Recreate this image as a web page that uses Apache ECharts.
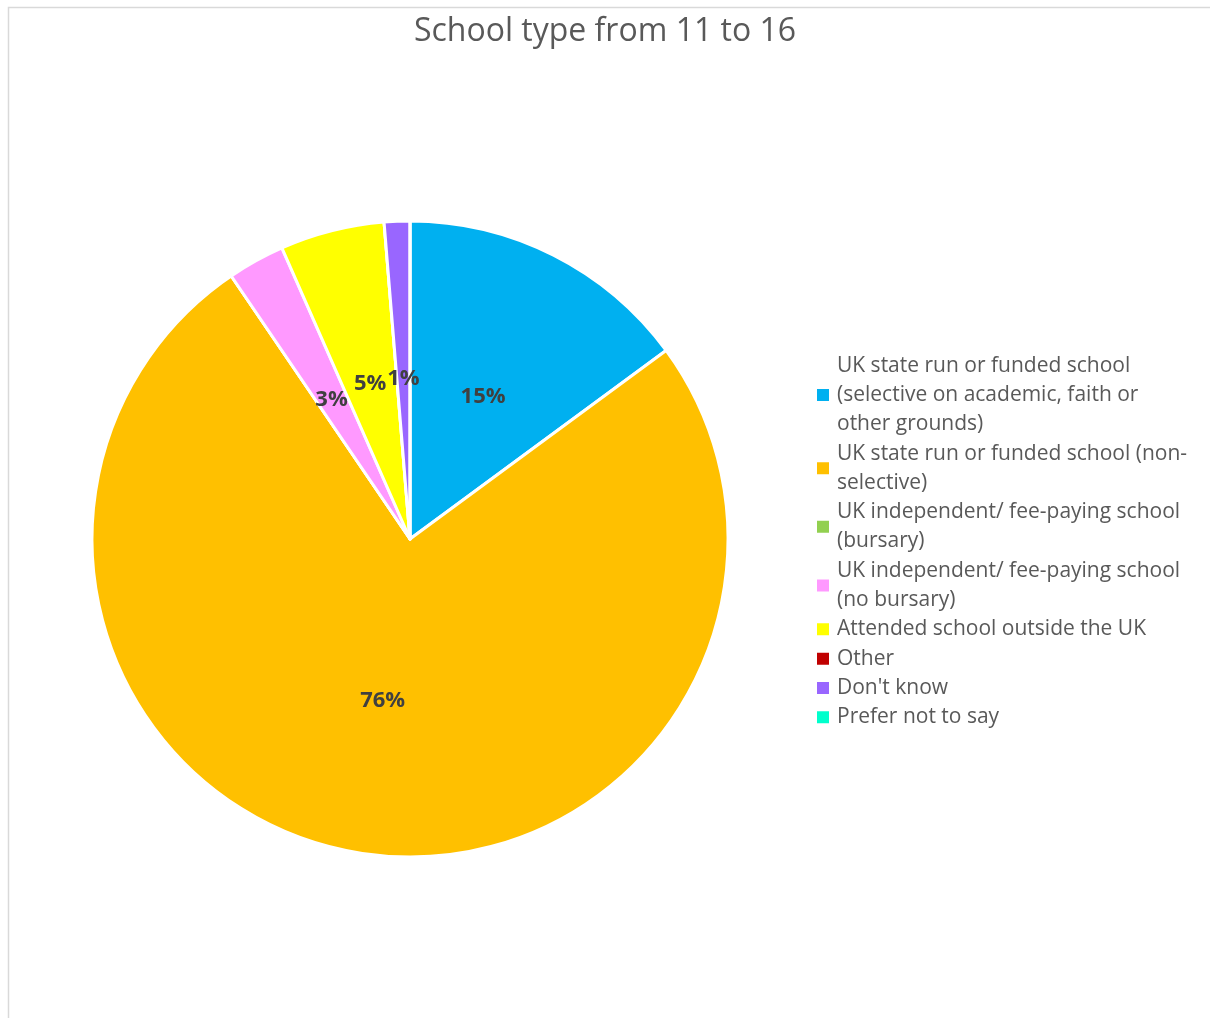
<!DOCTYPE html>
<html>
<head>
<meta charset="utf-8">
<title>School type from 11 to 16</title>
<script src="https://cdn.jsdelivr.net/npm/echarts@6/dist/echarts.min.js"></script>
<style>
  html, body { margin: 0; padding: 0; background: #fff; }
  #chart { width: 1210px; height: 1018px; }
</style>
</head>
<body>
<div id="chart"></div>
<script>
// 分类和数值（百分比，按图上读取）
const categories = [
  'UK state run or funded school (selective on academic, faith or other grounds)',
  'UK state run or funded school (non-selective)',
  'UK independent/ fee-paying school (bursary)',
  'UK independent/ fee-paying school (no bursary)',
  'Attended school outside the UK',
  'Other',
  "Don't know",
  'Prefer not to say'
]
const values = [14.9, 75.6, 0, 2.9, 5.3, 0, 1.3, 0]
const colors = ['#00b0f0', '#ffc000', '#92d050', '#ff99ff', '#ffff00', '#c00000', '#9966ff', '#00ffcc']
// 图例里的换行
const legendLines = [
  'UK state run or funded school\n(selective on academic, faith or\nother grounds)',
  'UK state run or funded school (non-\nselective)',
  'UK independent/ fee-paying school\n(bursary)',
  'UK independent/ fee-paying school\n(no bursary)',
  'Attended school outside the UK',
  'Other',
  "Don't know",
  'Prefer not to say'
]

const font = '"Open Sans", "Noto Sans", sans-serif'

const chart = echarts.init(document.getElementById('chart'))
const option = {
  animation: false,
  title: {
    text: 'School type from 11 to 16',
    left: 'center',
    top: 11,
    textStyle: {
      fontFamily: font,
      fontSize: 32,
      fontWeight: 'normal',
      color: '#595959'
    }
  },
  graphic: [{
    type: 'rect',
    silent: true,
    shape: { x: 8.5, y: 7.5, width: 1300, height: 1100 },
    style: { fill: 'none', stroke: '#d9d9d9', lineWidth: 1.5 }
  }],
  legend: {
    orient: 'vertical',
    left: 815,
    top: 351,
    padding: 0,
    itemWidth: 14,
    itemHeight: 14,
    itemGap: 0,
    icon: 'rect',
    data: categories,
    formatter: function (name) {
      return legendLines[categories.indexOf(name)]
    },
    textStyle: {
      fontFamily: font,
      fontSize: 21,
      lineHeight: 29.3,
      color: '#595959',
      padding: [0, 0, 0, 2]
    }
  },
  series: [{
    type: 'pie',
    center: [410, 539],
    radius: [0, 318],
    startAngle: 90,
    clockwise: true,
    minAngle: 0,
    avoidLabelOverlap: false,
    itemStyle: {
      borderColor: '#fff',
      borderWidth: 3
    },
    label: {
      show: true,
      position: 'inside',
      offset: [0, 2],
      fontFamily: font,
      fontSize: 22,
      fontWeight: 'bold',
      color: '#404040',
      formatter: function (p) {
        return p.value > 0 ? Math.round(p.value) + '%' : ''
      }
    },
    labelLine: { show: false },
    emphasis: { disabled: true },
    data: categories.map((name, i) => ({
      name: name,
      value: values[i],
      itemStyle: { color: colors[i] }
    }))
  }]
}
chart.setOption(option)
</script>
</body>
</html>
